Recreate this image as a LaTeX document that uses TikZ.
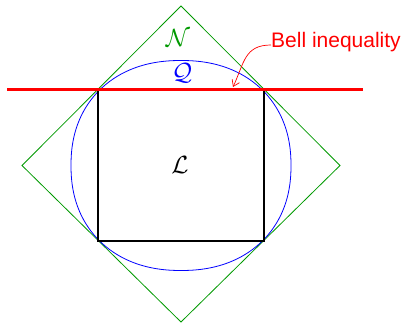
\documentclass[tikz,border=0pt]{standalone}
\usepackage{fontspec}
\usetikzlibrary{arrows.meta}
\newfontfamily\bellfont{Liberation Sans}
\begin{document}
\begin{tikzpicture}[x=1pt,y=1pt,
		polytope/.style={green!60!black,line width=0.8pt},
		quantum/.style={blue,line width=0.8pt},
		setlabel/.style={font=\fontsize{24}{28}\selectfont,inner sep=0pt}]
	\useasboundingbox (0,0) rectangle (405,324);
	% corners of the local polytope
	\coordinate (tl) at (98,234);
	\coordinate (tr) at (264,234);
	\coordinate (br) at (264,83);
	\coordinate (bl) at (98,83);
	% no-signalling polytope
	\draw[polytope] (181,318) -- (340,158.5) -- (181,2) -- (22,158.5) -- cycle;
	% quantum set
	\draw[quantum] plot[smooth cycle,domain=1.25:358.75,samples=144]
		({181+110*cos(\x)*abs(cos(\x))^(-0.09)},{158.5+105*sin(\x)*abs(sin(\x))^(-0.09)});
	% local set
	\draw[line width=2.5pt] (tl) -- (tr) -- (br) -- (bl) -- cycle;
	% Bell inequality
	\draw[red,line width=3pt] (7,234) -- (363,234);
	\node[setlabel,green!60!black] (nsset) at (178,286) {$\mathcal{N}$};
	\node[setlabel,blue] (qset) at (182,251) {$\mathcal{Q}$};
	\node[setlabel] (lset) at (180,159) {$\mathcal{L}$};
	\node[red,anchor=west,inner sep=0pt,font=\bellfont\fontsize{21}{24}\selectfont] (bell) at (271,282) {Bell inequality};
	\coordinate (hit) at (233,237);
	\draw[red,-{Straight Barb[length=6pt,width=8pt]},line width=0.7pt] ([yshift=-3pt]bell.west) to[out=180,in=65,looseness=1.2] (hit);
\end{tikzpicture}
\end{document}
